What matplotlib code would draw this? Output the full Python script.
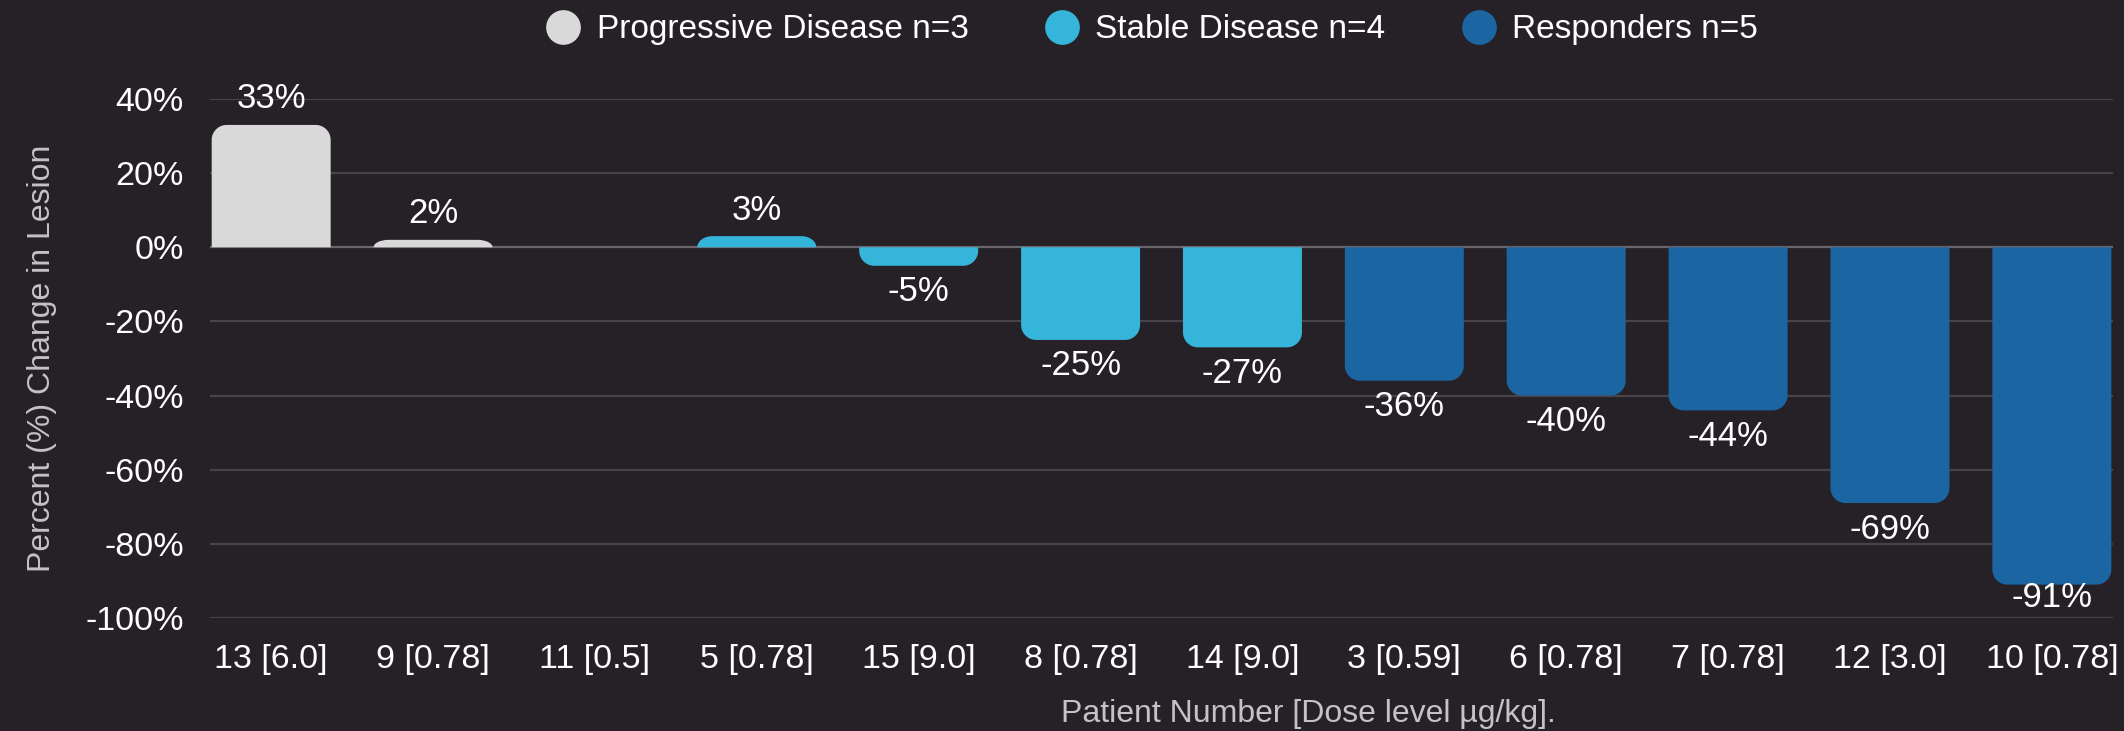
import matplotlib
matplotlib.use("Agg")
import matplotlib.pyplot as plt
import numpy as np
from matplotlib.lines import Line2D
from matplotlib.patches import PathPatch
from matplotlib.path import Path

# Data.
patients = ["13 [6.0]", "9 [0.78]", "11 [0.5]", "5 [0.78]", "15 [9.0]", "8 [0.78]",
            "14 [9.0]", "3 [0.59]", "6 [0.78]", "7 [0.78]", "12 [3.0]", "10 [0.78]"]
change = [33, 2, 0, 3, -5, -25, -27, -36, -40, -44, -69, -91]
group = [0, 0, 0, 1, 1, 1, 1, 2, 2, 2, 2, 2]
group_names = ["Progressive Disease n=3", "Stable Disease n=4", "Responders n=5"]
group_colors = ["#d9d9d9", "#36b5da", "#1c65a3"]
y_ticks = [40, 20, 0, -20, -40, -60, -80, -100]

BG = "#262127"
plt.rcParams["font.family"] = ["Liberation Sans", "DejaVu Sans"]

fig = plt.figure(figsize=(21.24, 7.31), dpi=100, facecolor=BG)
ax = fig.add_axes([0.0989, 0.1546, 0.8959, 0.71])
ax.set_facecolor(BG)

bar_w = 0.735
ax.set_xlim(-bar_w / 2 - 0.01, len(patients) - 1 + bar_w / 2 + 0.01)
ax.set_ylim(-100, 40)

# Grid lines
for t in y_ticks:
    ax.axhline(t, color="#6b666b" if t == 0 else "#48434a", lw=1.6, zorder=1)

fig.canvas.draw()
# Pixel -> data conversions for the rounded corners and label offsets
p0 = ax.transData.transform((0, 0))
p1 = ax.transData.transform((1, 1))
px_x = p1[0] - p0[0]
px_y = p1[1] - p0[1]
radius = 15  # px


def rounded_bar(xc, h, w, color):
    # Bar flat at zero, rounded at the far end.
    if h == 0:
        return
    s = np.sign(h)
    rx = min(radius / px_x, w / 2)
    ry = min(radius / px_y, abs(h))
    k = 0.5523
    x0, x1 = xc - w / 2, xc + w / 2
    ye = h
    yb = h - s * ry
    verts = [
        (x0, 0), (x0, yb),
        (x0, yb + s * ry * k), (x0 + rx * (1 - k), ye), (x0 + rx, ye),
        (x1 - rx, ye),
        (x1 - rx * (1 - k), ye), (x1, yb + s * ry * k), (x1, yb),
        (x1, 0), (x0, 0),
    ]
    codes = [Path.MOVETO, Path.LINETO,
             Path.CURVE4, Path.CURVE4, Path.CURVE4,
             Path.LINETO,
             Path.CURVE4, Path.CURVE4, Path.CURVE4,
             Path.LINETO, Path.CLOSEPOLY]
    ax.add_patch(PathPatch(Path(verts, codes), facecolor=color, edgecolor="none", zorder=3))


x = np.arange(len(patients))
for xi, v, g in zip(x, change, group):
    rounded_bar(xi, v, bar_w, group_colors[g])
    if v == 0:
        continue
    off = 26 / px_y
    if v > 0:
        ly = v + off
    else:
        ly = max(v - off, -100 + 20 / px_y)
    ax.text(xi, ly, f"{v}%", color="white", fontsize=25, ha="center", va="center", zorder=5)

ax.set_xticks(x)
ax.set_xticklabels(patients)
ax.set_yticks(y_ticks)
ax.set_yticklabels([f"{t}%" for t in y_ticks])
ax.tick_params(axis="both", length=0, colors="white", labelsize=24.5)
ax.tick_params(axis="x", pad=19)
ax.tick_params(axis="y", pad=19)
for sp in ax.spines.values():
    sp.set_visible(False)

ax.set_ylabel("Percent (%) Change in Lesion", color="#c4c2c5", fontsize=23, labelpad=20)
fig.text(0.616, 0.023, "Patient Number [Dose level µg/kg].", color="#c4c2c5",
         fontsize=23, ha="center", va="center")

handles = [Line2D([], [], ls="none", marker="o", markersize=25, markerfacecolor=c,
                  markeredgecolor="none") for c in group_colors]
fig.legend(handles, group_names, loc="center", bbox_to_anchor=(0.5425, 0.959), ncol=3,
           frameon=False, fontsize=24, labelcolor="white", handlelength=1.0,
           handletextpad=0.5, columnspacing=2.3)

fig.savefig("out.png", dpi=100, facecolor=BG)
